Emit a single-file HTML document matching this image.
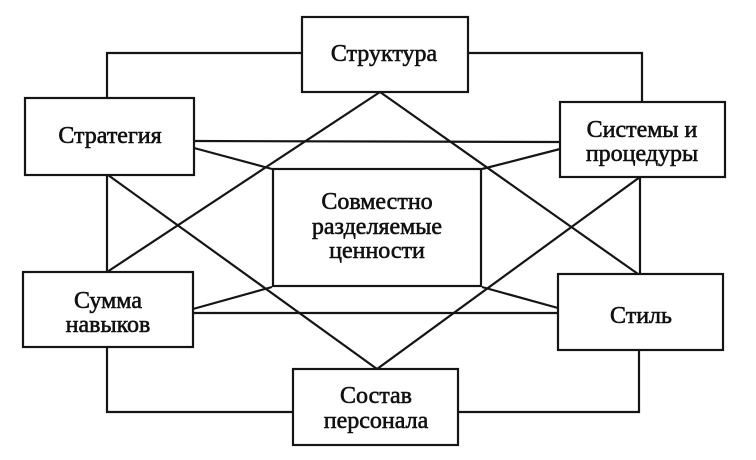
<!DOCTYPE html>
<html>
<head>
<meta charset="utf-8">
<style>
html,body{margin:0;padding:0;background:#fff;}
svg{display:block;}
text{font-family:"Liberation Serif","DejaVu Serif",serif;font-size:24px;fill:#111;stroke:#111;stroke-width:0.6px;text-anchor:middle;}
</style>
</head>
<body>
<svg width="756" height="460" viewBox="0 0 756 460" xmlns="http://www.w3.org/2000/svg">
<rect x="0" y="0" width="756" height="460" fill="#fff"/>
<g fill="none" stroke="#151515" stroke-width="2.2" stroke-linejoin="miter">
  <polyline points="107,98 107,53 302,53"/>
  <polyline points="468,53 642,53 642,102"/>
  <line x1="107" y1="174" x2="107" y2="272"/>
  <line x1="640" y1="177" x2="640" y2="274"/>
  <polyline points="107,347 107,412 293,412"/>
  <polyline points="639,350 639,412 458,412"/>
  <line x1="194" y1="141" x2="560" y2="142"/>
  <line x1="193" y1="313" x2="558" y2="313"/>
  <line x1="194" y1="148" x2="272" y2="169"/>
  <line x1="560" y1="149" x2="482" y2="169"/>
  <line x1="193" y1="309" x2="272" y2="287"/>
  <line x1="558" y1="308" x2="482" y2="287"/>
  <line x1="380" y1="92" x2="107" y2="272"/>
  <line x1="380" y1="92" x2="638" y2="274"/>
  <line x1="108" y1="175" x2="377" y2="369"/>
  <line x1="640" y1="177" x2="377" y2="369"/>
</g>
<g fill="#fff" stroke="#151515" stroke-width="2.2">
  <rect x="302" y="17" width="166" height="75"/>
  <rect x="25" y="98" width="169" height="77"/>
  <rect x="560" y="102" width="165" height="75"/>
  <rect x="273" y="169" width="208" height="117"/>
  <rect x="23" y="272" width="170" height="75"/>
  <rect x="558" y="274" width="165" height="76"/>
  <rect x="293" y="369" width="165" height="76"/>
</g>
<text x="384" y="61">Структура</text>
<text x="110" y="143">Стратегия</text>
<text x="642" y="137">Системы и</text>
<text x="642" y="161">процедуры</text>
<text x="377" y="209">Совместно</text>
<text x="377" y="234">разделяемые</text>
<text x="377" y="258">ценности</text>
<text x="108" y="308">Сумма</text>
<text x="108" y="332">навыков</text>
<text x="641" y="323">Стиль</text>
<text x="376" y="403">Состав</text>
<text x="376" y="428">персонала</text>
</svg>
</body>
</html>
